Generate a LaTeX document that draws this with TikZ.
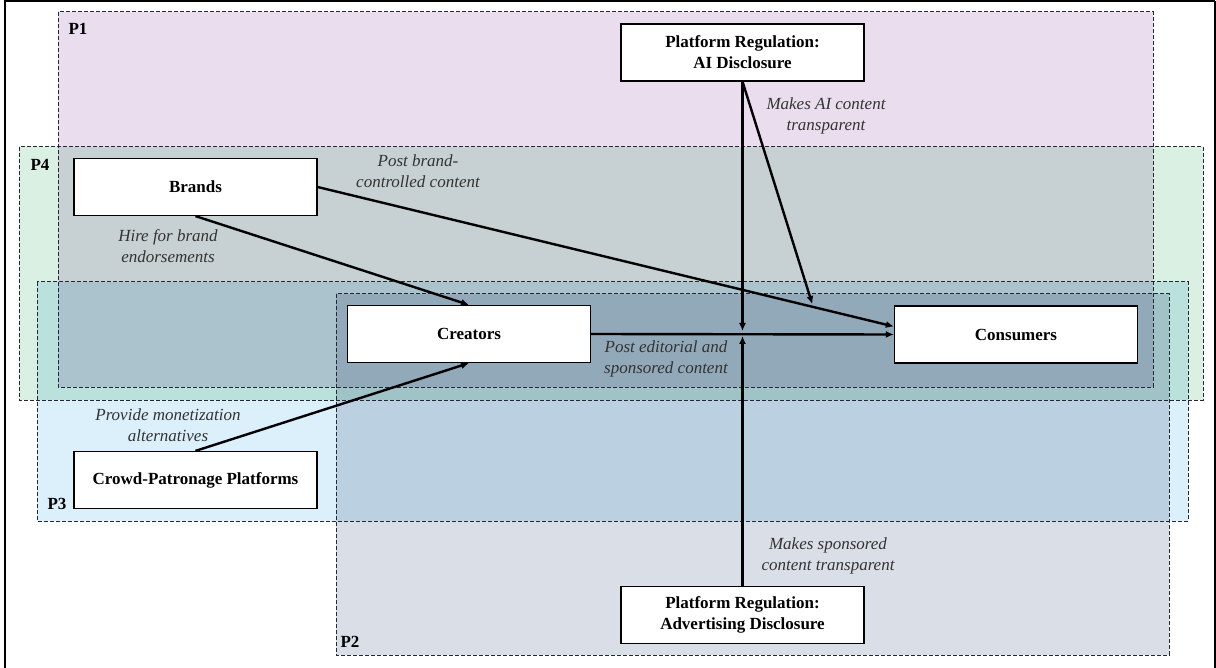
\documentclass[tikz,border=0pt]{standalone}
\usepackage{fontspec}
\setmainfont{Liberation Serif}
\usetikzlibrary{arrows.meta, positioning, calc}
\definecolor{pone}{RGB}{233, 221, 238}
\definecolor{ptwo}{RGB}{218, 222, 230}
\definecolor{pthree}{RGB}{219, 240, 250}
\definecolor{pfour}{RGB}{218, 240, 226}
\definecolor{zoneline}{RGB}{35, 40, 50}

\tikzset{
  actor/.style={draw=black, line width=1.2pt, fill=white, minimum width=243pt, minimum height=57pt,
    inner sep=0pt, align=center, font=\fontsize{17}{21}\selectfont\bfseries},
  zone/.style={draw=zoneline, dash pattern=on 4pt off 2pt, line width=1pt},
  link/.style={line width=2.4pt, -{Latex[length=8pt,width=7pt]}},
  note/.style={align=center, text=black!80, font=\fontsize{17}{21}\selectfont\itshape},
  tag/.style={font=\fontsize{17}{21}\selectfont\bfseries}
}

\begin{document}
\begin{tikzpicture}[x=1pt, y=-1pt]
  \useasboundingbox (0,0) rectangle (1216,668);

  % farbige Bereiche P1--P4
  \begin{scope}[blend mode=multiply]
    \fill[pone] (58,12) rectangle (1153,387);
    \fill[pfour] (19,147) rectangle (1203,400);
    \fill[pthree] (37,282) rectangle (1188,521);
    \fill[ptwo] (336,294) rectangle (1169,655);
  \end{scope}
  \draw[zone] (58,12) rectangle (1153,387);
  \draw[zone] (19,147) rectangle (1203,400);
  \draw[zone] (37,282) rectangle (1188,521);
  \draw[zone] (336,294) rectangle (1169,655);
  \node[tag] (pa) at (78,29) {P1};
  \node[tag] (pd) at (40,165) {P4};
  \node[tag] (pc) at (57,504) {P3};
  \node[tag] (pb) at (350,642) {P2};

  % Rahmen
  \draw[line width=2.5pt] (5,672) -- (5,1) -- (1215,1);
  \draw[line width=1.2pt] (1215,1) -- (1215,672);

  % Akteure
  \node[actor] (ai) at (742.5,52.5) {Platform Regulation:\\AI Disclosure};
  \node[actor] (bra) at (195.5,187) {Brands};
  \node[actor] (cre) at (469,334) {Creators};
  \node[actor] (con) at (1016,334.5) {Consumers};
  \node[actor] (cro) at (195.5,480) {Crowd-Patronage Platforms};
  \node[actor] (ad) at (742.5,615) {Platform Regulation:\\Advertising Disclosure};

  % Pfeile
  \draw[link] (bra.south) -- (cre.north);
  \draw[link] (cro.north) -- (cre.south);
  \draw[link] (cre.east) -- (con.west);
  \coordinate (conin) at ([yshift=8pt]con.west);
  \draw[link] (bra.east) -- (conin);

  % Moderation durch Regulierung
  \coordinate (hit) at (ai.south |- cre.east);
  \coordinate (mod) at ($(bra.east)!0.86!(conin)$);
  \draw[link] (ai.south) -- ([yshift=3pt]hit);
  \draw[link] (ad.north) -- ([yshift=-2pt]hit);
  \draw[link, shorten >=3pt] (ai.south) -- (mod);

  % Beschriftungen
  \node[note] (lpost) at (418,171) {Post brand-\\controlled content};
  \node[note] (lhire) at (168,246) {Hire for brand\\endorsements};
  \node[note] (lprov) at (168,425) {Provide monetization\\alternatives};
  \node[note] (ledit) at (666,359) {Post editorial and\\sponsored content};
  \node[note] (lai) at (826,116) {Makes AI content\\transparent};
  \node[note] (lad) at (828,556) {Makes sponsored\\content transparent};
\end{tikzpicture}
\end{document}
